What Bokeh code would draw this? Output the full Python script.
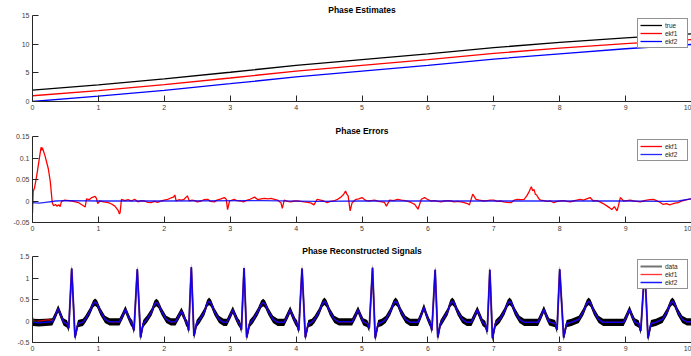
from bokeh.plotting import figure
from bokeh.models import Range1d, FixedTicker
from bokeh.layouts import column
from bokeh.embed import file_html
from bokeh.resources import INLINE

# ---------------- data ----------------
x_ticks = [0, 1, 2, 3, 4, 5, 6, 7, 8, 9, 10]
x_tick_labels = ["0", "1", "2", "3", "4", "5", "6", "7", "8", "9", "10"]

est_y_ticks = [0, 5, 10, 15]
est_y_labels = ["0", "5", "10", "15"]
err_y_ticks = [-0.05, 0, 0.05, 0.1, 0.15]
err_y_labels = ["-0.05", "0", "0.05", "0.1", "0.15"]
sig_y_ticks = [-0.5, 0, 0.5, 1, 1.5]
sig_y_labels = ["-0.5", "0", "0.5", "1", "1.5"]

# Phase estimates
est_t = [0, 1, 2, 3, 4, 5, 6, 7, 8, 9, 10]
est_true = [2.0, 2.9, 3.95, 5.1, 6.3, 7.3, 8.3, 9.4, 10.3, 11.1, 11.8]
est_ekf1 = [1.0, 1.9, 2.95, 4.1, 5.3, 6.3, 7.3, 8.4, 9.3, 10.1, 10.8]
est_ekf2 = [0.0, 0.95, 1.95, 3.1, 4.3, 5.3, 6.3, 7.4, 8.3, 9.2, 9.95]

# Phase errors
err1_t = [0.0, 0.01, 0.03, 0.06, 0.1, 0.13, 0.14, 0.15, 0.19, 0.24, 0.27, 0.30, 0.32, 0.35, 0.37, 0.40, 0.42, 0.44,
          0.49, 0.55, 0.6, 0.65, 0.7, 0.76, 0.8, 0.82, 0.86, 0.9, 0.95, 0.97, 0.99, 1.02, 1.08, 1.15, 1.2, 1.25,
          1.3, 1.32, 1.33, 1.35, 1.4, 1.45, 1.5, 1.55, 1.6, 1.65, 1.7, 1.75, 1.8, 1.85, 1.9, 1.95, 2.0, 2.05,
          2.1, 2.14, 2.16, 2.18, 2.22, 2.26, 2.3, 2.35, 2.38, 2.42, 2.46, 2.5, 2.56, 2.6, 2.66, 2.7, 2.76, 2.8,
          2.86, 2.91, 2.94, 2.96, 2.99, 3.06, 3.1, 3.16, 3.2, 3.26, 3.3, 3.37, 3.42, 3.47, 3.52, 3.57, 3.62,
          3.67, 3.72, 3.77, 3.79, 3.82, 3.87, 3.92, 3.97, 4.02, 4.07, 4.12, 4.18, 4.23, 4.27, 4.32, 4.37, 4.42,
          4.47, 4.52, 4.57, 4.62, 4.68, 4.72, 4.75, 4.77, 4.79, 4.82, 4.85, 4.9, 4.95, 5.0, 5.05, 5.09, 5.14,
          5.19, 5.25, 5.3, 5.34, 5.37, 5.42, 5.48, 5.54, 5.6, 5.65, 5.7, 5.75, 5.8, 5.85, 5.9, 5.95, 6.0, 6.05,
          6.1, 6.15, 6.2, 6.25, 6.3, 6.35, 6.4, 6.45, 6.5, 6.55, 6.6, 6.63, 6.68, 6.73, 6.78, 6.85, 6.9, 6.95,
          7.0, 7.05, 7.1, 7.15, 7.2, 7.26, 7.31, 7.36, 7.41, 7.46, 7.5, 7.53, 7.56, 7.57, 7.59, 7.61, 7.63,
          7.65, 7.68, 7.71, 7.76, 7.81, 7.86, 7.91, 7.96, 8.01, 8.06, 8.11, 8.16, 8.21, 8.26, 8.31, 8.36, 8.41,
          8.46, 8.51, 8.56, 8.61, 8.66, 8.72, 8.76, 8.79, 8.83, 8.87, 8.89, 8.92, 8.97, 9.02, 9.07, 9.12, 9.17,
          9.22, 9.27, 9.32, 9.37, 9.42, 9.47, 9.52, 9.57, 9.62, 9.67, 9.7, 9.75, 9.8, 9.85, 9.9, 9.95, 10.0]
err1_v = [-0.028, 0.022, 0.030, 0.055, 0.095, 0.125, 0.118, 0.124, 0.105, 0.075, 0.045, -0.004, -0.011, -0.008,
          -0.012, -0.009, -0.013, -0.001, 0.002, 0.001, 0.0, -0.002, -0.004, -0.01, -0.014, 0.005, 0.003, 0.008,
          0.011, 0.006, -0.006, 0.0, -0.002, -0.004, -0.007, -0.012, -0.022, -0.03, -0.026, 0.004, 0.001, 0.003,
          0.0, 0.004, -0.002, 0.001, 0.0, -0.003, -0.004, -0.001, -0.003, 0.0, 0.002, 0.004, 0.007, 0.009, 0.014,
          0.0, 0.003, 0.002, 0.004, 0.012, 0.0, 0.002, 0.001, -0.002, 0.0, 0.003, 0.004, -0.001, -0.002, 0.002,
          0.005, 0.008, 0.004, -0.02, 0.0, 0.004, 0.001, 0.0, -0.002, 0.002, 0.004, 0.009, 0.003, 0.005, 0.006,
          0.005, 0.006, 0.004, 0.002, -0.004, -0.017, 0.002, -0.001, -0.002, 0.0, 0.0, -0.001, -0.002, -0.003,
          -0.005, -0.009, 0.004, 0.002, 0.0, -0.004, -0.001, 0.0, 0.003, 0.009, 0.015, 0.023, 0.016, 0.012,
          -0.023, -0.004, 0.003, 0.005, 0.008, 0.002, 0.0, 0.001, 0.002, -0.001, -0.002, -0.003, -0.012, 0.002,
          0.001, 0.004, 0.002, 0.001, -0.001, -0.004, -0.008, -0.019, 0.004, 0.008, 0.003, 0.0, 0.001, -0.001,
          -0.002, 0.0, 0.001, 0.0, -0.002, -0.001, -0.002, -0.004, -0.006, -0.009, 0.016, 0.004, 0.002, 0.0,
          0.001, 0.002, 0.002, -0.001, 0.0, -0.002, -0.003, -0.004, 0.002, 0.004, 0.003, 0.004, 0.012, 0.02,
          0.03, 0.033, 0.024, 0.027, 0.016, 0.014, 0.006, 0.002, 0.001, -0.001, 0.0, -0.004, -0.001, 0.0, 0.001,
          -0.001, -0.002, 0.0, 0.002, 0.004, 0.002, 0.005, 0.008, 0.0, 0.001, -0.002, -0.006, -0.012, -0.016,
          -0.02, -0.013, -0.023, -0.012, 0.008, 0.0, 0.001, 0.002, 0.0, -0.001, -0.002, 0.0, 0.002, 0.003,
          0.004, 0.001, -0.003, -0.008, -0.006, -0.009, -0.007, -0.005, -0.004, 0.0, 0.002, 0.004, 0.005]
err2_t = [0.0, 0.1, 0.2, 0.35, 0.5, 1.0, 2.0, 3.5, 4.3, 5.0, 6.0, 7.0, 8.0, 9.0, 9.6, 9.8, 10.0]
err2_v = [-0.004, -0.005, -0.003, 0.0, 0.001, 0.0, 0.0, 0.001, -0.001, 0.0, 0.0, 0.0, 0.0, 0.0, -0.001, 0.0, 0.005]

# Reconstructed signals (waveform vertices)
ecg_t = [0.0, 0.1, 0.2, 0.30,
         0.345, 0.39, 0.43, 0.47, 0.525, 0.55, 0.595, 0.645, 0.69, 0.765, 0.80, 0.87, 0.92, 0.95, 0.98, 1.03, 1.10, 1.17,
         1.32, 1.365, 1.41, 1.45, 1.49, 1.515, 1.54, 1.59, 1.64, 1.68, 1.74, 1.81, 1.85, 1.88, 1.91, 1.96, 2.03, 2.10,
         2.17, 2.215, 2.26, 2.30, 2.33, 2.35, 2.37, 2.41, 2.45, 2.49, 2.54, 2.61, 2.65, 2.68, 2.71, 2.76, 2.83, 2.90,
         2.95, 2.995, 3.04, 3.08, 3.12, 3.145, 3.17, 3.21, 3.25, 3.295, 3.35, 3.42, 3.47, 3.50, 3.53, 3.58, 3.65, 3.72,
         3.82, 3.865, 3.91, 3.95, 3.99, 4.015, 4.04, 4.09, 4.14, 4.185, 4.24, 4.28, 4.35, 4.40, 4.43, 4.46, 4.51, 4.58, 4.65,
         4.85, 4.895, 4.94, 4.98, 5.02, 5.08, 5.11, 5.16, 5.20, 5.245, 5.30, 5.36, 5.43, 5.48, 5.51, 5.54, 5.59, 5.66, 5.73,
         5.85, 5.895, 5.94, 5.98, 6.02, 6.04, 6.06, 6.11, 6.15, 6.19, 6.23, 6.30, 6.34, 6.37, 6.40, 6.45, 6.52, 6.59,
         6.66, 6.705, 6.75, 6.79, 6.83, 6.87, 6.90, 6.94, 6.98, 7.025, 7.09, 7.16, 7.21, 7.24, 7.27, 7.32, 7.39, 7.46,
         7.67, 7.715, 7.76, 7.80, 7.84, 7.93, 7.96, 8.00, 8.06, 8.105, 8.18, 8.29, 8.36, 8.41, 8.44, 8.47, 8.52, 8.59, 8.66,
         8.97, 9.015, 9.06, 9.10, 9.14, 9.20, 9.23, 9.29, 9.34, 9.385, 9.46, 9.56, 9.63, 9.68, 9.71, 9.74, 9.79, 9.86, 9.93, 10.0]
ekf2_sig = [-0.03, -0.04, -0.03, -0.02,
            0.12, 0.29, 0.13, -0.02, -0.07, -0.17, 1.22, -0.38, -0.06, -0.03, 0.04, 0.22, 0.40, 0.44, 0.40, 0.22, 0.04, -0.02,
            -0.02, 0.12, 0.27, 0.12, -0.02, -0.07, -0.22, 1.20, -0.38, -0.06, 0.05, 0.22, 0.39, 0.43, 0.39, 0.22, 0.04, -0.02,
            -0.02, 0.10, 0.23, 0.10, -0.03, -0.07, -0.22, 1.25, -0.35, -0.06, 0.04, 0.22, 0.41, 0.46, 0.41, 0.22, 0.04, -0.03,
            -0.03, 0.11, 0.26, 0.11, -0.02, -0.07, -0.20, 1.23, -0.38, -0.06, 0.04, 0.22, 0.39, 0.43, 0.39, 0.22, 0.04, -0.03,
            -0.03, 0.11, 0.26, 0.11, -0.02, -0.07, -0.22, 1.22, -0.38, -0.06, -0.03, 0.04, 0.22, 0.41, 0.46, 0.41, 0.22, 0.04, -0.02,
            -0.02, 0.11, 0.26, 0.11, -0.02, -0.06, -0.17, 1.24, -0.40, -0.06, -0.03, 0.04, 0.22, 0.41, 0.46, 0.41, 0.22, 0.04, -0.03,
            -0.03, 0.13, 0.32, 0.13, -0.02, -0.07, -0.22, 1.19, -0.38, -0.06, 0.04, 0.22, 0.41, 0.46, 0.41, 0.22, 0.04, -0.03,
            -0.03, 0.11, 0.26, 0.11, -0.03, -0.08, -0.25, 1.19, -0.40, -0.06, 0.04, 0.22, 0.41, 0.46, 0.41, 0.22, 0.04, -0.03,
            -0.03, 0.11, 0.27, 0.11, -0.02, -0.06, -0.20, 1.20, -0.38, -0.06, -0.03, 0.04, 0.22, 0.41, 0.46, 0.41, 0.22, 0.04, -0.03,
            -0.03, 0.11, 0.27, 0.11, -0.02, -0.07, -0.23, 1.24, -0.40, -0.06, -0.03, 0.04, 0.22, 0.41, 0.46, 0.41, 0.22, 0.04, -0.02, -0.02]
# ekf1 differs from ekf2 only during the first 0.3 s
ekf1_start_t = [0.0, 0.02, 0.06, 0.15, 0.25, 0.30]
ekf1_start_v = [0.09, 0.0, -0.01, 0.01, 0.03, 0.0]
ekf1_sig_t = ekf1_start_t + ecg_t[4:]
ekf1_sig = ekf1_start_v + ekf2_sig[4:]
# measured data: the same waveform plus measurement noise of about +/-0.085,
# drawn as the noise band that the picture shows
data_sig = ekf2_sig
data_noise = 0.085
data_lo = [v - data_noise for v in data_sig]
data_hi = [v + data_noise for v in data_sig]

# ---------------- figures ----------------
FONT = "Liberation Sans"
AX = "#262626"


def make_fig(height, ymin, ymax, yticks, ylabels, title, top, bottom):
    p = figure(width=691, height=height, x_range=Range1d(0, 10), y_range=Range1d(ymin, ymax),
               output_backend="svg", toolbar_location=None, title=title,
               min_border_left=32, min_border_right=0, min_border_top=top, min_border_bottom=bottom)
    p.outline_line_color = None
    p.grid.visible = False
    p.background_fill_color = "white"
    p.border_fill_color = "white"
    p.title.align = "center"
    p.title.text_font = FONT
    p.title.text_font_size = "8.5px"
    p.title.text_font_style = "bold"
    p.title.text_color = "black"
    p.title.standoff = 1
    for ax in (p.xaxis[0], p.yaxis[0]):
        ax.axis_line_color = AX
        ax.axis_line_width = 1
        ax.major_tick_line_color = AX
        ax.major_tick_in = 6
        ax.major_tick_out = 0
        ax.minor_tick_line_color = None
        ax.major_label_text_font = FONT
        ax.major_label_text_font_size = "7px"
        ax.major_label_text_color = "#404040"
        ax.major_label_standoff = 3
    p.xaxis.ticker = FixedTicker(ticks=x_ticks)
    p.xaxis.major_label_overrides = {t: l for t, l in zip(x_ticks, x_tick_labels)}
    p.yaxis.ticker = FixedTicker(ticks=yticks)
    p.yaxis.major_label_overrides = {t: l for t, l in zip(yticks, ylabels)}
    return p


def style_legend(p):
    lg = p.legend[0]
    lg.location = "top_right"
    lg.margin = 3
    lg.padding = 2
    lg.spacing = 0
    lg.glyph_width = 22
    lg.glyph_height = 8
    lg.label_height = 8
    lg.label_standoff = 3
    lg.label_text_font = FONT
    lg.label_text_font_size = "6.5px"
    lg.label_text_color = AX
    lg.border_line_color = AX
    lg.border_line_width = 1
    lg.background_fill_alpha = 1


p1 = make_fig(120, 0, 15, est_y_ticks, est_y_labels, "Phase Estimates", 15, 19)
p1.line(est_t, est_true, color="black", line_width=1.3, legend_label="true")
p1.line(est_t, est_ekf1, color="red", line_width=1.3, legend_label="ekf1")
p1.line(est_t, est_ekf2, color="blue", line_width=1.3, legend_label="ekf2")
style_legend(p1)

p2 = make_fig(120, -0.05, 0.15, err_y_ticks, err_y_labels, "Phase Errors", 16, 18)
p2.line(err1_t, err1_v, color="red", line_width=1.3, legend_label="ekf1")
p2.line(err2_t, err2_v, color="blue", line_width=1.3, line_alpha=0.85, legend_label="ekf2")
style_legend(p2)

p3 = make_fig(116, -0.5, 1.5, sig_y_ticks, sig_y_labels, "Phase Reconstructed Signals", 16, 14)
p3.varea(x=ecg_t, y1=data_lo, y2=data_hi, fill_color="black")
p3.line(ecg_t, data_sig, color="black", line_width=2, line_alpha=0.55, legend_label="data")
p3.line(ekf1_sig_t, ekf1_sig, color="red", line_width=1.3, line_alpha=0.8, legend_label="ekf1")
p3.line(ecg_t, ekf2_sig, color="blue", line_width=1.5, line_alpha=0.9, legend_label="ekf2")
style_legend(p3)

layout = column(p1, p2, p3, spacing=0)
open("out.html", "w").write(file_html(layout, INLINE))
